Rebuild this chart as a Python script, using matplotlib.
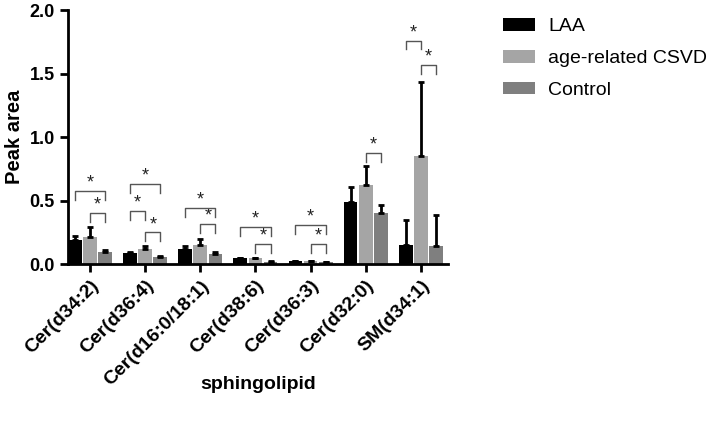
import matplotlib.pyplot as plt
import matplotlib.transforms as mtransforms
import numpy as np

plt.rcParams['font.family'] = ['Liberation Sans', 'DejaVu Sans']

# sphingolipid peak areas (mean and upper error)
lipids = ['Cer(d34:2)', 'Cer(d36:4)', 'Cer(d16:0/18:1)', 'Cer(d38:6)',
          'Cer(d36:3)', 'Cer(d32:0)', 'SM(d34:1)']
groups = ['LAA', 'age-related CSVD', 'Control']
laa = [0.19, 0.085, 0.12, 0.045, 0.025, 0.49, 0.15]
laa_err = [0.03, 0.012, 0.025, 0.004, 0.002, 0.12, 0.20]
csvd = [0.215, 0.12, 0.15, 0.045, 0.025, 0.62, 0.85]
csvd_err = [0.075, 0.024, 0.045, 0.006, 0.002, 0.15, 0.58]
ctrl = [0.095, 0.055, 0.08, 0.02, 0.015, 0.405, 0.14]
ctrl_err = [0.02, 0.005, 0.012, 0.002, 0.001, 0.06, 0.25]

# significance brackets: (lipid index, bar a, bar b, height)
sig = [(0, 0, 2, 0.575), (0, 1, 2, 0.40),
       (1, 0, 2, 0.63), (1, 0, 1, 0.42), (1, 1, 2, 0.25),
       (2, 0, 2, 0.44), (2, 1, 2, 0.315),
       (3, 0, 2, 0.29), (3, 1, 2, 0.157),
       (4, 0, 2, 0.31), (4, 1, 2, 0.157),
       (5, 1, 2, 0.877),
       (6, 0, 1, 1.76), (6, 1, 2, 1.57)]

colors = ['#000000', '#a5a5a5', '#7f7f7f']

fig = plt.figure(figsize=(7.18, 4.26), dpi=100)
ax = fig.add_axes([0.0947, 0.38, 0.529, 0.5965])

x = np.arange(len(lipids))
w = 0.25
off = 0.275
handles = []
for k, (vals, errs) in enumerate([(laa, laa_err), (csvd, csvd_err), (ctrl, ctrl_err)]):
    pos = x + (k - 1) * off
    b = ax.bar(pos, vals, w, color=colors[k], label=groups[k], zorder=2)
    ax.errorbar(pos, vals, yerr=[np.zeros(len(vals)), errs], fmt='none',
                ecolor='black', elinewidth=2, capsize=2.5, capthick=2, zorder=3)
    handles.append(b)

h = 0.07
for g, a, bb, y in sig:
    x1 = g + (a - 1) * off
    x2 = g + (bb - 1) * off
    ax.plot([x1, x1, x2, x2], [y - h, y, y, y - h], color='#555555', lw=1, zorder=4)
    ax.text((x1 + x2) / 2, y - 0.005, '*', ha='center', va='bottom', fontsize=13,
            color='#222222')

ax.set_xlim(-0.4, 6.49)
ax.set_ylim(0, 2.0)
ax.set_yticks([0, 0.5, 1.0, 1.5, 2.0])
ax.set_yticklabels(['0.0', '0.5', '1.0', '1.5', '2.0'], fontsize=13, fontweight='bold')
ax.set_xticks(x)
ax.set_xticklabels(lipids, rotation=45, ha='right', rotation_mode='anchor',
                   fontsize=14, fontweight='bold')
shift = mtransforms.ScaledTranslation(4 / 100, -3 / 100, fig.dpi_scale_trans)
for lab in ax.get_xticklabels():
    lab.set_transform(lab.get_transform() + shift)
ax.tick_params(axis='both', width=2, length=6)
for s in ['top', 'right']:
    ax.spines[s].set_visible(False)
for s in ['left', 'bottom']:
    ax.spines[s].set_linewidth(2)
ax.set_ylabel('Peak area', fontsize=14.5, fontweight='bold')
ax.set_xlabel('sphingolipid', fontsize=14, fontweight='bold')
ax.xaxis.set_label_coords(0.5, -0.44)

fig.legend(handles=handles, labels=groups, loc='upper left',
           bbox_to_anchor=(0.676, 0.998), frameon=False, fontsize=14,
           handlelength=1.65, handleheight=0.62, labelspacing=0.75, handletextpad=0.67)

fig.savefig('out.png', dpi=100)
